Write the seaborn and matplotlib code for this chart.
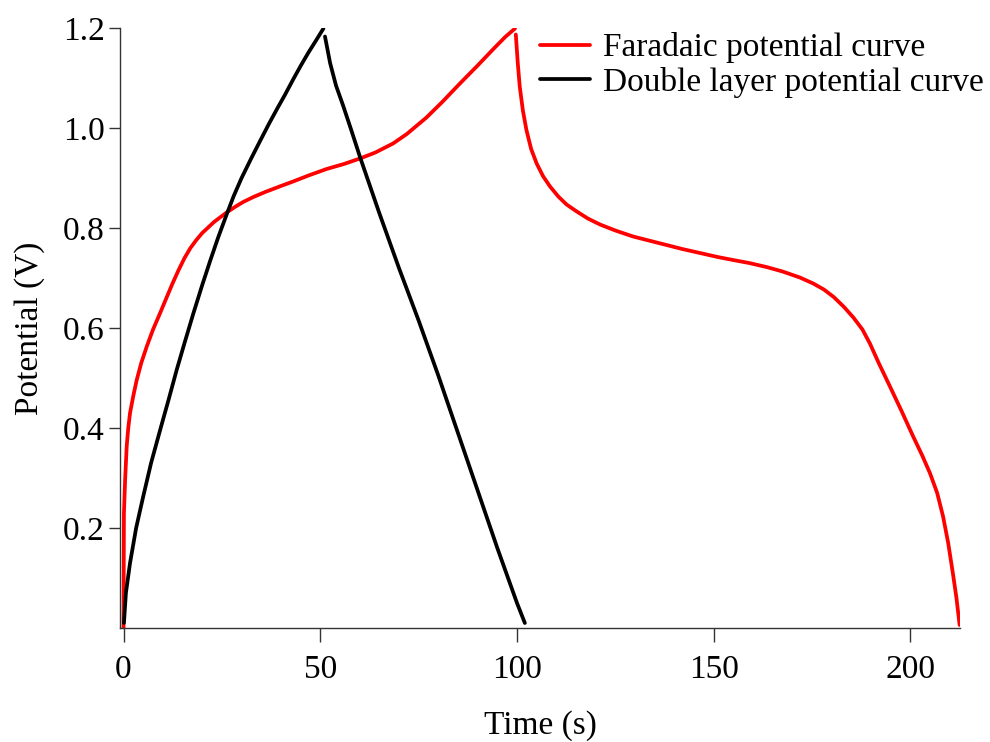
import numpy as np
import pandas as pd
import seaborn as sns
import matplotlib.pyplot as plt

# Faradaic curve: charge then discharge (s, V)
far_charge_t = [0, 0.05, 0.1, 0.4, 0.8, 1.2, 1.65, 2.5, 3.35, 4.5, 5.9, 7.5, 9.3, 11, 12.5, 14,
                15.5, 17, 18.5, 20, 21.5, 23, 24.5, 26.2, 28.5, 30.4, 33, 36, 40, 43.1, 47,
                51.6, 56, 60.1, 64, 68.5, 72, 77, 81, 85.5, 90, 94, 97, 99.5]
far_charge_v = [0.0, 0.12, 0.229, 0.296, 0.363, 0.40, 0.43, 0.465, 0.496, 0.53, 0.563, 0.597,
                0.63, 0.662, 0.69, 0.716, 0.74, 0.76, 0.776, 0.79, 0.801, 0.812, 0.821, 0.831,
                0.843, 0.852, 0.862, 0.872, 0.884, 0.893, 0.905, 0.918, 0.928, 0.939, 0.951,
                0.969, 0.988, 1.021, 1.052, 1.089, 1.125, 1.158, 1.182, 1.199]
far_dis_t = [99.7, 100.2, 100.7, 101.5, 102.4, 103.6, 105, 106.6, 108.4, 110.5, 112.6, 115,
             118, 121.1, 125, 129.5, 134, 138, 142, 146.5, 151, 154.9, 159, 163.4, 167.5,
             171.9, 175.3, 178, 180.5, 183, 185.5, 187.8, 189.7, 192, 194.8, 197.8, 200.7,
             203, 205, 206.8, 208.3, 209.6, 210.8, 211.7, 212.5]
far_dis_v = [1.187, 1.13, 1.083, 1.035, 0.996, 0.958, 0.929, 0.904, 0.883, 0.863, 0.847, 0.834,
             0.819, 0.807, 0.795, 0.783, 0.774, 0.766, 0.758, 0.75, 0.742, 0.736, 0.73, 0.722,
             0.713, 0.701, 0.689, 0.677, 0.662, 0.643, 0.621, 0.597, 0.569, 0.529, 0.483, 0.433,
             0.383, 0.345, 0.309, 0.27, 0.223, 0.17, 0.109, 0.06, 0.006]

# Double layer curve
dl_charge_t = [0.1, 0.6, 1.65, 3.2, 5, 7, 9.3, 11.5, 13.5, 15.5, 17.7, 20, 22, 24, 26.2, 28,
               30, 32.5, 34.7, 37, 39, 41, 43.1, 45, 47, 49, 50.8]
dl_charge_v = [0.01, 0.07, 0.13, 0.2, 0.263, 0.33, 0.396, 0.458, 0.516, 0.57, 0.628, 0.686,
               0.734, 0.78, 0.827, 0.864, 0.9, 0.94, 0.974, 1.009, 1.038, 1.066, 1.097, 1.124,
               1.151, 1.176, 1.199]
dl_dis_t = [51.2, 52.5, 54, 55.8, 58, 60.1, 65, 70, 75, 80, 85, 90, 95, 100, 102]
dl_dis_v = [1.183, 1.13, 1.085, 1.045, 0.993, 0.942, 0.83, 0.72, 0.615, 0.505, 0.39, 0.275,
            0.16, 0.05, 0.01]

names = ["Faradaic potential curve", "Double layer potential curve"]

parts = []
for name, seg, t, v in [(names[0], "f1", far_charge_t, far_charge_v),
                        (names[0], "f2", far_dis_t, far_dis_v),
                        (names[1], "d1", dl_charge_t, dl_charge_v),
                        (names[1], "d2", dl_dis_t, dl_dis_v)]:
    parts.append(pd.DataFrame({"t": t, "v": v, "curve": name, "seg": seg}))
df = pd.concat(parts, ignore_index=True)

sns.set_theme(style="ticks")
plt.rcParams["font.family"] = ["Liberation Serif", "DejaVu Serif"]
plt.rcParams["text.color"] = "black"
plt.rcParams["axes.labelcolor"] = "black"
plt.rcParams["xtick.color"] = "black"
plt.rcParams["ytick.color"] = "black"

fig = plt.figure(figsize=(9.9, 7.42), dpi=100)
ax = fig.add_axes([120 / 990, 1 - 628 / 742, 840 / 990, 600 / 742])

sns.lineplot(data=df, x="t", y="v", hue="curve", units="seg", estimator=None, sort=False,
             palette={names[0]: "#ff0000", names[1]: "#000000"}, linewidth=2.7, ax=ax)

ax.set_xlim(-0.9, 212.6)
ax.set_ylim(0, 1.2)
ax.set_xticks([0, 50, 100, 150, 200])
ax.set_yticks([0.2, 0.4, 0.6, 0.8, 1.0, 1.2])
ax.set_yticklabels(["0.2", "0.4", "0.6", "0.8", "1.0", "1.2"])
ax.tick_params(labelsize=24, width=1, direction="out")
ax.tick_params(axis="x", length=10, pad=9, color="#333333")
ax.tick_params(axis="y", length=8, pad=3, color="#333333")
for s in ["top", "right"]:
    ax.spines[s].set_visible(False)
for s in ["left", "bottom"]:
    ax.spines[s].set_color("#333333")
    ax.spines[s].set_linewidth(1)

ax.set_xlabel("Time (s)", fontsize=24, labelpad=18)
ax.set_ylabel("Potential (V)", fontsize=24, labelpad=13)

ax.legend(loc="upper left", bbox_to_anchor=(0.5, 0.993), frameon=False, fontsize=24,
          handlelength=1.5, handletextpad=0.4, borderaxespad=0, borderpad=0,
          labelspacing=0.1)

fig.savefig("out.png", dpi=100)
